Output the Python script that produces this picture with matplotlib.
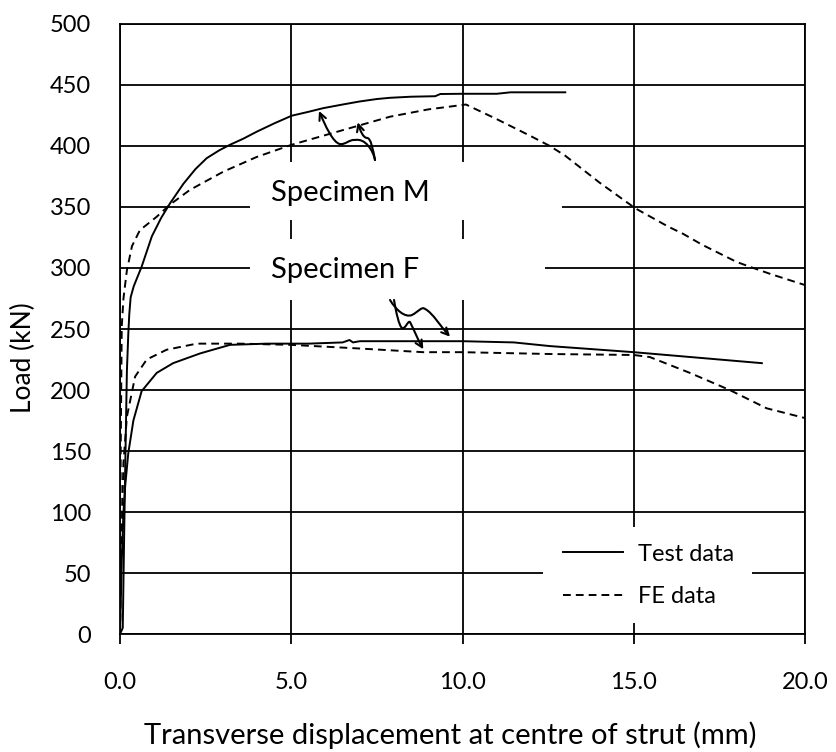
import matplotlib
matplotlib.use("Agg")
import matplotlib.pyplot as plt
from matplotlib.path import Path
from matplotlib.patches import FancyArrowPatch, Rectangle
from matplotlib.lines import Line2D

plt.rcParams['font.family'] = ['Lato', 'DejaVu Sans']

# ---- data ----
m_test_x = [0.0, 0.08, 0.12, 0.16, 0.2, 0.24, 0.27, 0.31, 0.4, 0.5, 0.63, 0.93, 1.2, 1.46, 1.85, 2.2, 2.53, 2.9,
            3.21, 3.6, 3.99, 4.5, 5.01, 5.5, 5.93, 6.5, 7.0, 7.5, 7.88, 8.5, 9.2, 9.35, 10.0, 11.0, 11.4, 13.0]
m_test_y = [0, 5, 80, 150, 215, 245, 262, 276, 285, 292, 301, 326, 341, 353, 369, 381, 390, 396.5,
            401, 406, 411.7, 418.5, 424.8, 428, 431, 434, 436.5, 438.5, 439.5, 440.4, 440.8, 442.6, 442.8,
            442.8, 444, 444]

m_fe_x = [0.0, 0.02, 0.05, 0.1, 0.2, 0.35, 0.58, 1.07, 1.46, 2.04, 3.02, 3.99, 5.01, 6.13, 7.88, 9.0, 10.1,
          11.0, 12.0, 12.55, 13.0, 14.0, 15.04, 16.0, 16.44, 17.0, 18.0, 18.39, 19.0, 20.0]
m_fe_y = [0, 150, 252, 275, 298, 318, 331, 342, 352, 364, 379, 391, 401, 410, 424, 430, 434,
          422, 408, 400, 392, 370, 349, 334, 328, 319, 305, 301, 295, 286]

f_test_x = [0.0, 0.05, 0.1, 0.15, 0.24, 0.39, 0.63, 1.07, 1.55, 2.34, 3.21, 4.28, 5.5, 6.5, 6.7, 6.8,
            7.0, 8.0, 10.0, 11.5, 12.55, 15.0, 18.74]
f_test_y = [0, 60, 100, 121, 148, 175, 199, 214, 222, 230, 237, 238, 238, 239, 241, 239,
            240, 240, 240, 239, 236, 231, 222]

f_fe_x = [0.0, 0.02, 0.05, 0.1, 0.2, 0.44, 0.78, 1.36, 2.24, 3.5, 5.0, 7.0, 8.85, 10.0, 12.55, 15.0, 15.47,
          16.64, 17.8, 18.88, 20.0]
f_fe_y = [0, 40, 85, 140, 178, 211, 225, 233, 238, 238, 237, 234, 231, 231, 229.5, 228.7, 227,
          214, 200, 185, 177]

x_ticks = [0, 5, 10, 15, 20]
x_tick_labels = ['0.0', '5.0', '10.0', '15.0', '20.0']
y_ticks = [0, 50, 100, 150, 200, 250, 300, 350, 400, 450, 500]
y_tick_labels = [str(v) for v in y_ticks]

fig = plt.figure(figsize=(8.37, 7.52), dpi=100)
ax = fig.add_axes([0.1434, 0.1569, 0.9618 - 0.1434, 0.9681 - 0.1569])
ax.set_xlim(0, 20)
ax.set_ylim(0, 500)
ax.set_xticks(x_ticks)
ax.set_xticklabels(x_tick_labels)
ax.set_yticks(y_ticks)
ax.set_yticklabels(y_tick_labels)
ax.tick_params(axis='x', direction='out', length=7, width=1.3, labelsize=17, pad=20)
ax.tick_params(axis='y', length=0, labelsize=17, pad=21)
ax.grid(True, color='black', linewidth=1.3, zorder=0)
ax.set_axisbelow(True)
for s in ax.spines.values():
    s.set_linewidth(1.3)
    s.set_color('black')

ax.set_xlabel('Transverse displacement at centre of strut (mm)', fontsize=21)
ax.xaxis.label.set_verticalalignment('center')
ax.xaxis.set_label_coords(0.482, -0.166)
ax.set_ylabel('Load (kN)', fontsize=19)
ax.yaxis.label.set_verticalalignment('center')
ax.yaxis.set_label_coords(-0.141, 0.453)

lw = 1.4
dash = (0, (4, 2.6))
ax.plot(m_test_x, m_test_y, color='black', lw=lw, zorder=3)
ax.plot(f_test_x, f_test_y, color='black', lw=lw, zorder=3)
ax.plot(m_fe_x, m_fe_y, color='black', lw=lw, ls=dash, zorder=3)
ax.plot(f_fe_x, f_fe_y, color='black', lw=lw, ls=dash, zorder=3)

# white label boxes
ax.add_patch(Rectangle((3.8, 339.3), 9.1, 47.6, facecolor='white', edgecolor='none', zorder=1))
ax.add_patch(Rectangle((3.8, 273.8), 8.6, 50.0, facecolor='white', edgecolor='none', zorder=1))
ax.text(4.4, 361.5, 'Specimen M', fontsize=21, va='center', ha='left', zorder=4)
ax.text(4.4, 298.4, 'Specimen F', fontsize=21, va='center', ha='left', zorder=4)

C = Path.CURVE4
def arrow(verts):
    codes = [Path.MOVETO] + [C] * (len(verts) - 1)
    p = FancyArrowPatch(path=Path(verts, codes), arrowstyle='->,head_length=5,head_width=2.5',
                        color='black', lw=1.5, zorder=5, shrinkA=0, shrinkB=0)
    ax.add_patch(p)

# Specimen M arrows
arrow([(7.445, 388.5), (7.387, 396.7), (7.153, 406.6), (6.861, 404.9),
       (6.715, 405.7), (6.569, 400.8), (6.423, 401.6),
       (6.219, 402.5), (5.985, 417.2), (5.810, 428.7)])
arrow([(7.445, 388.5), (7.387, 396.7), (7.328, 406.6), (7.212, 406.6),
       (7.095, 406.6), (7.007, 413.1), (6.940, 419.4)])
# Specimen F arrows
arrow([(7.883, 273.8), (8.058, 265.6), (8.321, 259.0), (8.526, 261.5),
       (8.701, 263.9), (8.818, 268.9), (8.905, 266.4),
       (9.109, 263.9), (9.401, 250.8), (9.635, 243.7)])
arrow([(8.0, 273.8), (8.058, 263.9), (8.146, 252.5), (8.234, 250.8),
       (8.321, 249.2), (8.409, 257.4), (8.467, 255.7),
       (8.584, 249.2), (8.730, 239.3), (8.856, 233.4)])

# legend
ax.add_patch(Rectangle((12.35, 9.0), 6.1, 78.7, facecolor='white', edgecolor='none', zorder=1))
handles = [Line2D([], [], color='black', lw=lw), Line2D([], [], color='black', lw=lw, ls=dash)]
leg = ax.legend(handles, ['Test data', 'FE data'], loc='center left', bbox_to_anchor=(12.31, 47.95),
                bbox_transform=ax.transData, frameon=False, fontsize=17, handlelength=2.54,
                handletextpad=0.64, labelspacing=0.93)
leg.set_zorder(6)

fig.savefig('out.png', dpi=100)
